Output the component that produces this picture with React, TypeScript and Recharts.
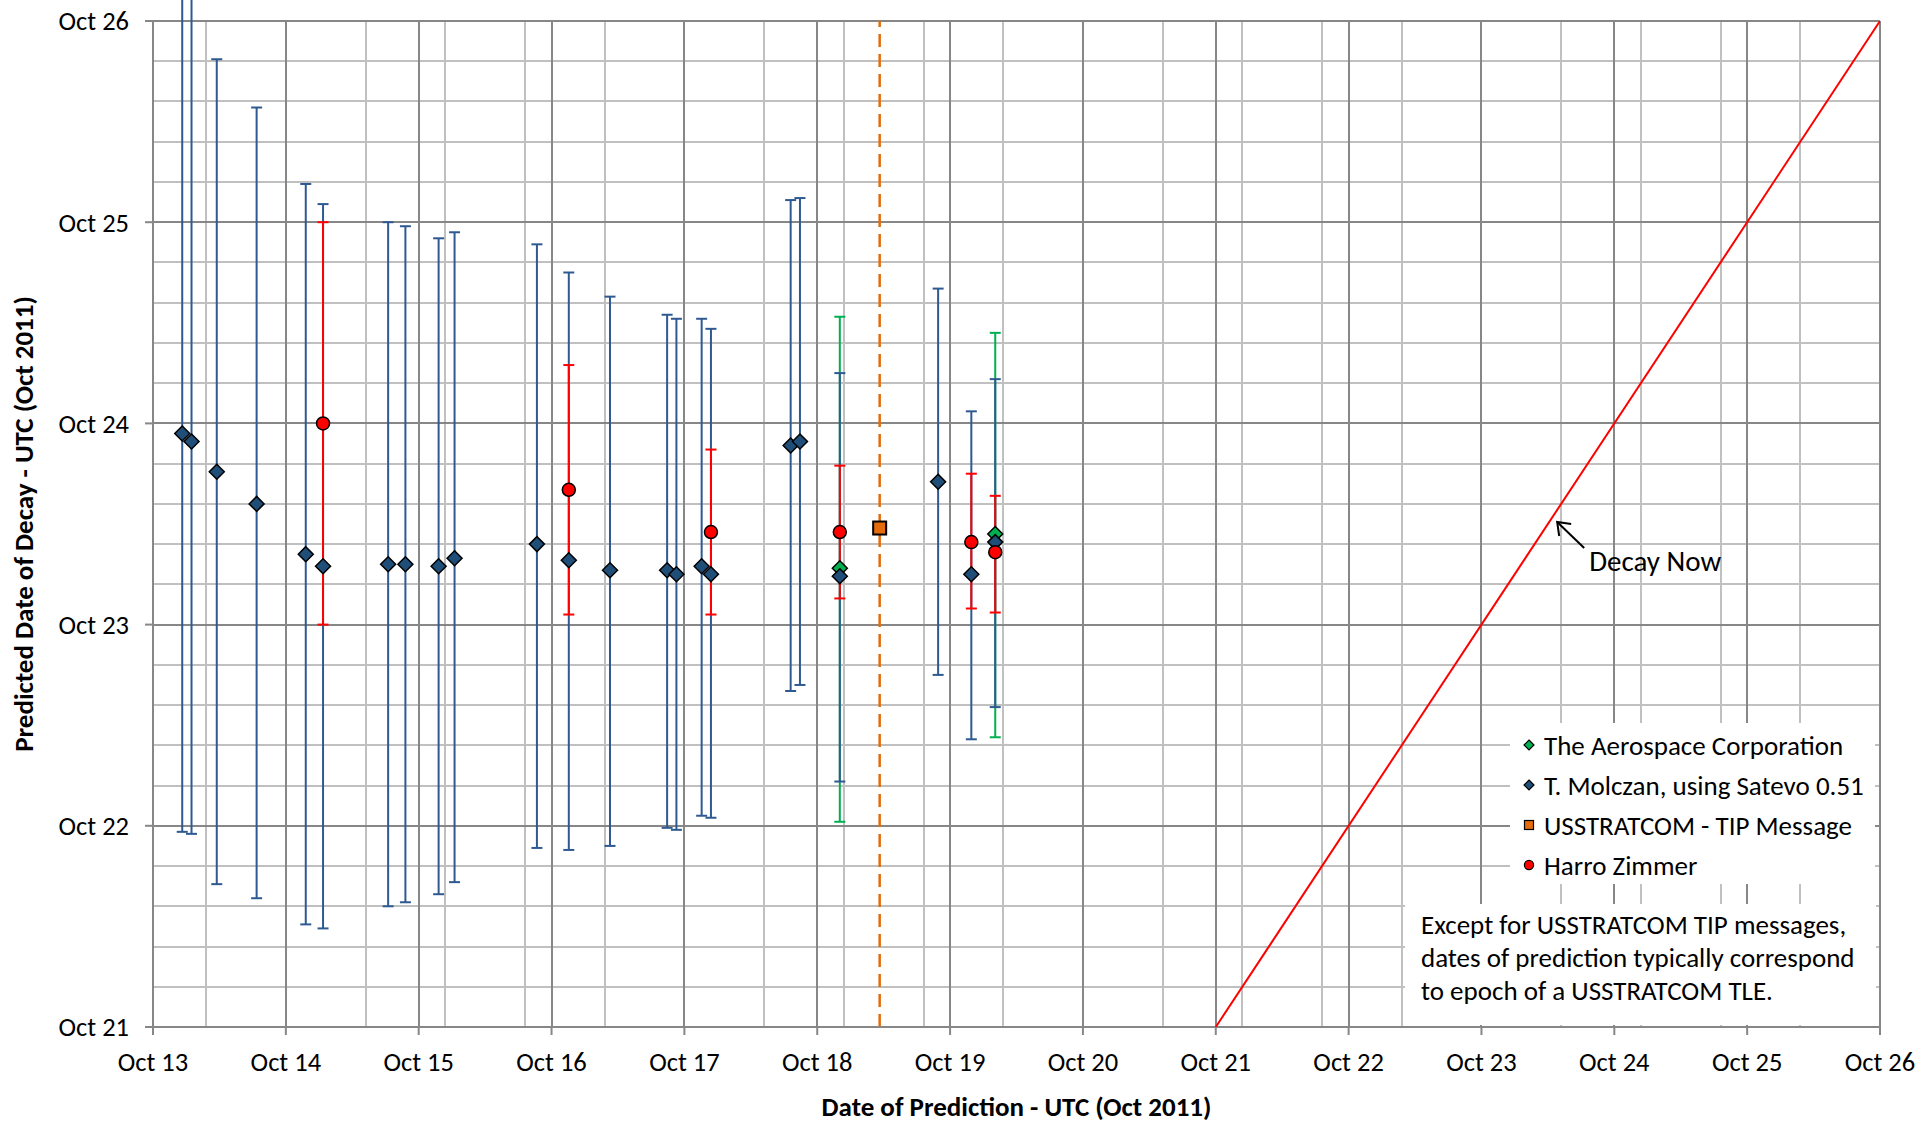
import React from 'react'
import {
  ScatterChart,
  Scatter,
  XAxis,
  YAxis,
  CartesianGrid,
  ErrorBar,
  ReferenceLine,
  ReferenceDot,
} from 'recharts'

const FONT = 'Carlito, Lato, "Open Sans", sans-serif'

// all values are days of October 2011 (UTC)
const molczanX = [13.22, 13.29, 13.48, 13.78, 14.15, 14.28, 14.77, 14.9, 15.15, 15.27, 15.89, 16.13, 16.44, 16.87, 16.94, 17.13, 17.2, 17.8, 17.87, 18.17, 18.91, 19.16, 19.34]
const molczanY = [23.95, 23.91, 23.76, 23.6, 23.35, 23.29, 23.3, 23.3, 23.29, 23.33, 23.4, 23.32, 23.27, 23.27, 23.25, 23.29, 23.25, 23.89, 23.91, 23.24, 23.71, 23.25, 23.41]
const molczanHi = [26.4, 26.4, 25.81, 25.57, 25.19, 25.09, 25.0, 24.98, 24.92, 24.95, 24.89, 24.75, 24.63, 24.54, 24.52, 24.52, 24.47, 25.11, 25.12, 24.25, 24.67, 24.06, 24.22]
const molczanLo = [21.97, 21.96, 21.71, 21.64, 21.51, 21.49, 21.6, 21.62, 21.66, 21.72, 21.89, 21.88, 21.9, 21.99, 21.98, 22.05, 22.04, 22.67, 22.7, 22.22, 22.75, 22.43, 22.59]

const zimmerX = [14.28, 16.13, 17.2, 18.17, 19.16, 19.34]
const zimmerY = [24.0, 23.67, 23.46, 23.46, 23.41, 23.36]
const zimmerHi = [25.0, 24.29, 23.87, 23.79, 23.75, 23.64]
const zimmerLo = [23.0, 23.05, 23.05, 23.13, 23.08, 23.06]

const aeroX = [18.17, 19.34]
const aeroY = [23.28, 23.45]
const aeroHi = [24.53, 24.45]
const aeroLo = [22.02, 22.44]

const tipX = [18.47]
const tipY = [23.48]

// "decay now" line: prediction date == decay date
const decayX = [21, 26]
const decayY = [21, 26]
const decayNote = { x: 23.57, y: 23.51 }

const xTicks = [13, 14, 15, 16, 17, 18, 19, 20, 21, 22, 23, 24, 25, 26]
const yTicks = [21, 22, 23, 24, 25, 26]

const steps = (from: number, to: number, step: number) =>
  Array.from({ length: Math.round((to - from) / step) + 1 }, (_, i) => +(from + i * step).toFixed(2))
const minorX = steps(13, 26, 0.2)
const minorY = steps(21, 26, 0.2)

const rows = (xs: number[], ys: number[], lo?: number[], hi?: number[]) =>
  xs.map((x, i) => ({
    x,
    y: ys[i],
    err: lo && hi ? [+(ys[i] - lo[i]).toFixed(3), +(hi[i] - ys[i]).toFixed(3)] : undefined,
  }))

const molczan = rows(molczanX, molczanY, molczanLo, molczanHi)
const zimmer = rows(zimmerX, zimmerY, zimmerLo, zimmerHi)
const aero = rows(aeroX, aeroY, aeroLo, aeroHi)
const tip = rows(tipX, tipY)
const decay = rows(decayX, decayY)

const BLUE_BAR = '#2F5A91'
const BLUE = '#1F4E79'
const RED = '#FF0000'
const GREEN = '#00B050'
const ORANGE = '#E46C0A'

const NoMark = () => <g />

const diamond = (fill: string, r = 7.5) => (p: any) => (
  <polygon
    points={`${p.cx},${p.cy - r} ${p.cx + r},${p.cy} ${p.cx},${p.cy + r} ${p.cx - r},${p.cy}`}
    fill={fill}
    stroke="#000"
    strokeWidth={1.5}
  />
)
const circle = (fill: string, r = 6.5) => (p: any) => (
  <circle cx={p.cx} cy={p.cy} r={r} fill={fill} stroke="#000" strokeWidth={1.5} />
)
const square = (fill: string, r = 6.5) => (p: any) => (
  <rect x={p.cx - r} y={p.cy - r} width={2 * r} height={2 * r} fill={fill} stroke="#000" strokeWidth={2} />
)

const legendItems = [
  { name: 'The Aerospace Corporation', mark: 'diamond', color: GREEN },
  { name: 'T. Molczan, using Satevo 0.51', mark: 'diamond', color: BLUE },
  { name: 'USSTRATCOM - TIP Message', mark: 'square', color: ORANGE },
  { name: 'Harro Zimmer', mark: 'circle', color: RED },
]

function LegendMark({ mark, color }: { mark: string; color: string }) {
  return (
    <svg width={14} height={14} style={{ display: 'block' }}>
      {mark === 'diamond' && <polygon points="7,2 12,7 7,12 2,7" fill={color} stroke="#000" strokeWidth={1.2} />}
      {mark === 'square' && <rect x={2.5} y={2.5} width={9} height={9} fill={color} stroke="#000" strokeWidth={1.2} />}
      {mark === 'circle' && <circle cx={7} cy={7} r={4.6} fill={color} stroke="#000" strokeWidth={1.2} />}
    </svg>
  )
}

const tickStyle = { fontSize: 26.5, fill: '#000', fontFamily: FONT }
const titleStyle = { fontSize: 27, fontWeight: 700, fill: '#000', fontFamily: FONT }

export default function App() {
  return (
    <div style={{ position: 'absolute', left: 0, top: 0, width: 1921, height: 1121, fontFamily: FONT, background: '#fff' }}>
      <ScatterChart width={1921} height={1121} margin={{ top: 21, right: 41, bottom: 0, left: 0 }}>
        <CartesianGrid
          verticalValues={minorX}
          horizontalValues={minorY}
          stroke="#C0C0C0"
          strokeWidth={2}
          shapeRendering="crispEdges"
        />
        <CartesianGrid
          verticalValues={xTicks}
          horizontalValues={yTicks}
          stroke="#878787"
          strokeWidth={2}
          shapeRendering="crispEdges"
        />
        <XAxis
          type="number"
          dataKey="x"
          domain={[13, 26]}
          ticks={xTicks}
          allowDataOverflow
          tickFormatter={(v) => `Oct ${v}`}
          height={94}
          tick={tickStyle}
          tickSize={8}
          tickMargin={17}
          stroke="#878787"
          strokeWidth={2}
          label={{
            content: (props: any) => {
              const vb = props.viewBox || { x: 153, y: 1027, width: 1727, height: 94 }
              return (
                <text x={vb.x + vb.width / 2} y={1106} textAnchor="middle" dominantBaseline="central" style={titleStyle}>
                  Date of Prediction - UTC (Oct 2011)
                </text>
              )
            },
          }}
        />
        <YAxis
          type="number"
          dataKey="y"
          domain={[21, 26]}
          ticks={yTicks}
          allowDataOverflow
          tickFormatter={(v) => `Oct ${v}`}
          width={153}
          tick={tickStyle}
          tickSize={8}
          tickMargin={16}
          stroke="#878787"
          strokeWidth={2}
          label={{
            content: (props: any) => {
              const vb = props.viewBox || { x: 0, y: 21, width: 153, height: 1006 }
              const cy = vb.y + vb.height / 2
              return (
                <text
                  x={23}
                  y={cy}
                  transform={`rotate(-90 23 ${cy})`}
                  textAnchor="middle"
                  dominantBaseline="central"
                  style={titleStyle}
                >
                  Predicted Date of Decay - UTC (Oct 2011)
                </text>
              )
            },
          }}
        />
        <ReferenceLine x={tipX[0]} stroke={ORANGE} strokeWidth={2.5} strokeDasharray="13 7" />
        <Scatter data={decay} line={{ stroke: RED, strokeWidth: 2 }} shape={NoMark} isAnimationActive={false} />

        {/* error bars first, markers on top (as in the original) */}
        <Scatter data={aero} shape={NoMark} isAnimationActive={false}>
          <ErrorBar dataKey="err" direction="y" width={5.5} stroke={GREEN} strokeWidth={2} />
        </Scatter>
        <Scatter data={molczan} shape={NoMark} isAnimationActive={false}>
          <ErrorBar dataKey="err" direction="y" width={5.5} stroke={BLUE_BAR} strokeWidth={2} />
        </Scatter>
        <Scatter data={zimmer} shape={NoMark} isAnimationActive={false}>
          <ErrorBar dataKey="err" direction="y" width={5.5} stroke={RED} strokeWidth={2} />
        </Scatter>

        <Scatter name="The Aerospace Corporation" data={aero} shape={diamond(GREEN)} isAnimationActive={false} />
        <Scatter name="T. Molczan, using Satevo 0.51" data={molczan} shape={diamond(BLUE)} isAnimationActive={false} />
        <Scatter name="USSTRATCOM - TIP Message" data={tip} shape={square(ORANGE)} isAnimationActive={false} />
        <Scatter name="Harro Zimmer" data={zimmer} shape={circle(RED)} isAnimationActive={false} />

        <ReferenceDot
          x={decayNote.x}
          y={decayNote.y}
          shape={(p: any) => (
            <g>
              <line x1={p.cx} y1={p.cy} x2={p.cx + 27} y2={p.cy + 26} stroke="#000" strokeWidth={2} />
              <polyline
                points={`${p.cx + 2},${p.cy + 14} ${p.cx},${p.cy} ${p.cx + 14},${p.cy + 2}`}
                fill="none"
                stroke="#000"
                strokeWidth={2}
              />
              <text x={p.cx + 32} y={p.cy + 39} dominantBaseline="central" style={{ fontSize: 29, fill: '#000', fontFamily: FONT }}>
                Decay Now
              </text>
            </g>
          )}
        />
      </ScatterChart>

      <div style={{ position: 'absolute', left: 1510, top: 723, width: 365, height: 161, background: '#fff', paddingTop: 2, boxSizing: 'border-box' }}>
        {legendItems.map((it) => (
          <div key={it.name} style={{ height: 40, display: 'flex', alignItems: 'center', fontSize: 27, color: '#000', whiteSpace: 'nowrap' }}>
            <div style={{ marginLeft: 12, width: 22 }}>
              <LegendMark mark={it.mark} color={it.color} />
            </div>
            <span>{it.name}</span>
          </div>
        ))}
      </div>

      <div
        style={{
          position: 'absolute',
          left: 1405,
          top: 904,
          width: 471,
          height: 121,
          background: '#fff',
          boxSizing: 'border-box',
          padding: '4px 0 0 16px',
          fontSize: 27,
          lineHeight: '33px',
          color: '#000',
          whiteSpace: 'nowrap',
        }}
      >
        Except for USSTRATCOM TIP messages,
        <br />
        dates of prediction typically correspond
        <br />
        to epoch of a USSTRATCOM TLE.
      </div>
    </div>
  )
}
